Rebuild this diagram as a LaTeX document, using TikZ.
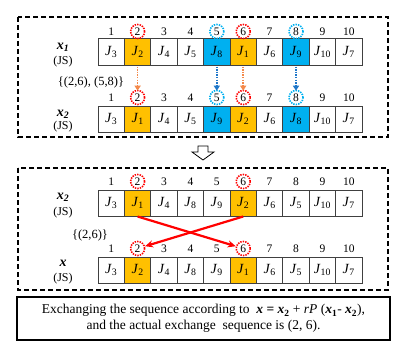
\documentclass[tikz,border=0pt]{standalone}
\usepackage{fontspec}
\setmainfont{Liberation Serif}
\usetikzlibrary{arrows.meta}
\definecolor{cgold}{HTML}{FFC000}
\definecolor{cblue}{HTML}{00B0F0}
\definecolor{carrowblue}{HTML}{1F77C9}
\definecolor{carroworange}{HTML}{F4894A}
\definecolor{ccell}{HTML}{404040}
\definecolor{cred}{HTML}{FF0000}
\tikzset{
  cell/.style={draw=ccell, line width=1pt, minimum width=26.4pt, minimum height=26pt, inner sep=0pt, font=\fontsize{14}{14}\selectfont},
  num/.style={inner sep=0pt, font=\fontsize{11.5}{11.5}\selectfont},
  rcirc/.style={circle, draw=cred, line width=1.6pt, dash pattern=on 1.4pt off 1.1pt, minimum size=14pt, inner sep=0pt},
  bcirc/.style={circle, draw=cblue, line width=1.6pt, dash pattern=on 1.4pt off 1.1pt, minimum size=14pt, inner sep=0pt},
  varlab/.style={inner sep=0pt, font=\fontsize{14}{14}\selectfont\bfseries\itshape},
  jslab/.style={inner sep=0pt, font=\fontsize{12}{12}\selectfont},
  setlab/.style={inner sep=0pt, font=\fontsize{12.5}{12.5}\selectfont},
  dbox/.style={draw=black, line width=1.8pt, dash pattern=on 5pt off 3pt},
  oarrow/.style={draw=carroworange, line width=1.6pt, dash pattern=on 1.5pt off 1.1pt, -{Triangle[length=5pt,width=6pt]}},
  barrow/.style={draw=carrowblue, line width=1.6pt, dash pattern=on 1.5pt off 1.1pt, -{Triangle[length=5pt,width=6pt]}},
  redarr/.style={draw=cred, line width=2.2pt, -{Stealth[length=8pt,width=7pt]}},
}
\newcommand{\Jc}[1]{\textit{J}\textsubscript{#1}}
\begin{document}
\begin{tikzpicture}[x=1pt,y=-1pt]
\useasboundingbox (0,0) rectangle (409,353);
% dashed frames
\draw[dbox] (18,17) rectangle (388,137);
\draw[dbox] (18,168) rectangle (388,290);
% rows
\foreach \j/\f [count=\i] in {3/white,2/cgold,4/white,5/white,8/cblue,1/cgold,6/white,9/cblue,10/white,7/white}{
  \node[cell,fill=\f] (a\i) at ({98+(\i-0.5)*26.4},52) {\Jc{\j}};
  \node[num] (na\i) at ({98+(\i-0.5)*26.4},31.5) {\i};
}
\foreach \j/\f [count=\i] in {3/white,1/cgold,4/white,5/white,9/cblue,2/cgold,6/white,8/cblue,10/white,7/white}{
  \node[cell,fill=\f] (b\i) at ({98+(\i-0.5)*26.4},119) {\Jc{\j}};
  \node[num] (nb\i) at ({98+(\i-0.5)*26.4},97.5) {\i};
}
\foreach \j/\f [count=\i] in {3/white,1/cgold,4/white,8/white,9/white,2/cgold,6/white,5/white,10/white,7/white}{
  \node[cell,fill=\f] (c\i) at ({98+(\i-0.5)*26.4},203) {\Jc{\j}};
  \node[num] (nc\i) at ({98+(\i-0.5)*26.4},181.5) {\i};
}
\foreach \j/\f [count=\i] in {3/white,2/cgold,4/white,8/white,9/white,1/cgold,6/white,5/white,10/white,7/white}{
  \node[cell,fill=\f] (d\i) at ({98+(\i-0.5)*26.4},270) {\Jc{\j}};
  \node[num] (nd\i) at ({98+(\i-0.5)*26.4},248.5) {\i};
}
% circles
\node[rcirc] (ca2) at (na2) {};
\node[bcirc] (ca5) at (na5) {};
\node[rcirc] (ca6) at (na6) {};
\node[bcirc] (ca8) at (na8) {};
\node[rcirc] (cb2) at (nb2) {};
\node[bcirc] (cb5) at (nb5) {};
\node[rcirc] (cb6) at (nb6) {};
\node[bcirc] (cb8) at (nb8) {};
\node[rcirc] (cc2) at (nc2) {};
\node[rcirc] (cc6) at (nc6) {};
\node[rcirc] (cd2) at (nd2) {};
\node[rcirc] (cd6) at (nd6) {};
% dotted arrows
\draw[oarrow] ([yshift=-1pt]a2.south) -- ([yshift=-1pt]cb2.north);
\draw[barrow] ([yshift=-1pt]a5.south) -- ([yshift=-1pt]cb5.north);
\draw[oarrow] ([yshift=-1pt]a6.south) -- ([yshift=-1pt]cb6.north);
\draw[barrow] ([yshift=-1pt]a8.south) -- ([yshift=-1pt]cb8.north);
% red cross arrows
\draw[redarr] (c2.south) -- (cd6);
\draw[redarr] (c6.south) -- (cd2);
% labels
\node[varlab] (lx1) at (63,47) {x\textsubscript{1}};
\node[jslab] (js1) at (63,62) {(JS)};
\node[varlab] (lx2) at (63,114) {x\textsubscript{2}};
\node[jslab] (js2) at (63,127) {(JS)};
\node[setlab] (s1) at (91,82) {\{(2,6), (5,8)\}};
\node[varlab] (lx3) at (63,197) {x\textsubscript{2}};
\node[jslab] (js3) at (63,213) {(JS)};
\node[setlab] (s2) at (90,235) {\{(2,6)\}};
\node[varlab] (lx4) at (63,263) {x};
\node[jslab] (js4) at (63,279) {(JS)};
% hollow arrow
\draw[line width=0.8pt, fill=white] (198,146) -- (208,146) -- (208,152) -- (214,152) -- (203,160) -- (192,152) -- (198,152) -- cycle;
% bottom box
\node[draw=black, line width=1.6pt, minimum width=373pt, minimum height=43pt, inner sep=0pt] (box) at (203.5,318.5) {};
\node[align=center, inner sep=0pt, font=\fontsize{13.5}{15.5}\selectfont] (txt) at (box) {Exchanging the sequence according to \ \textbf{\textit{x}} \textbf{=} \textbf{\textit{x}\textsubscript{2}} + \textit{rP} (\textbf{\textit{x}\textsubscript{1}}- \textbf{\textit{x}\textsubscript{2}}),\\and the actual exchange \ sequence is (2, 6).};
\end{tikzpicture}
\end{document}
